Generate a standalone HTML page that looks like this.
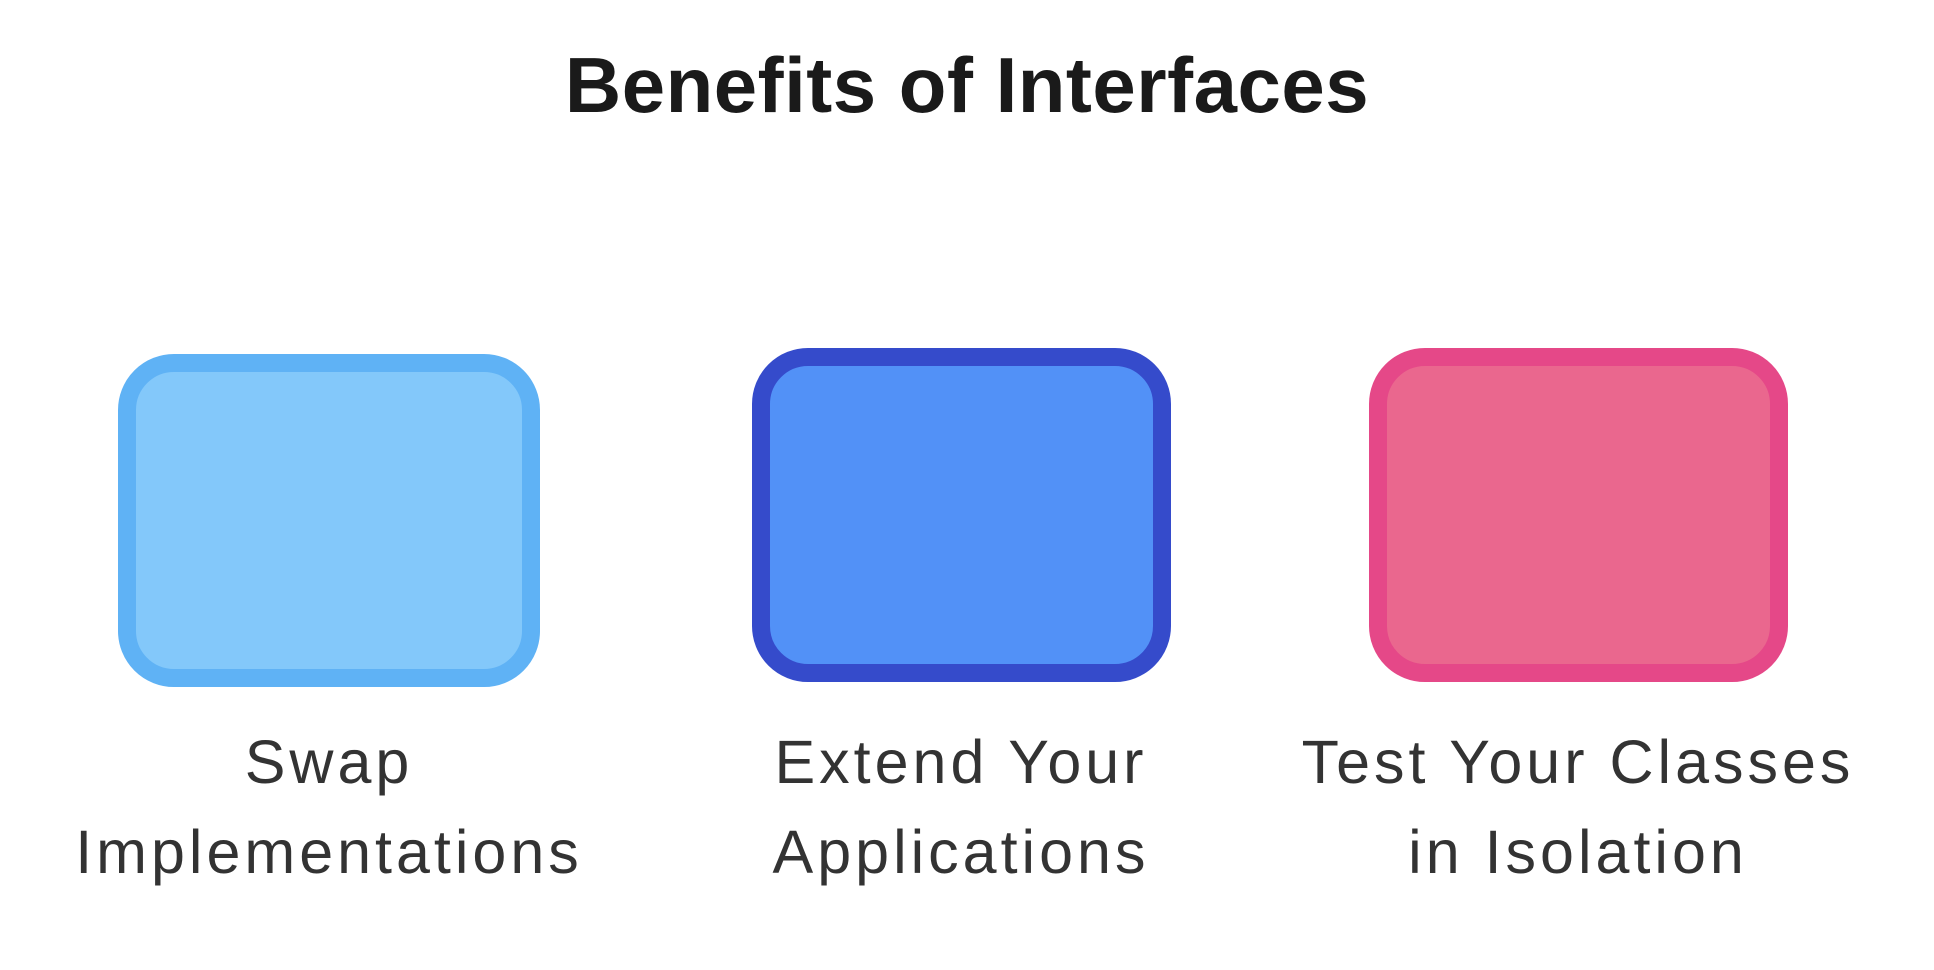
<!DOCTYPE html>
<html><head><style>
body{margin:0;width:1934px;height:970px;background:#fff;position:relative;overflow:hidden;font-family:"Liberation Sans",sans-serif}
.t{position:absolute;left:0;width:1934px;top:40px;text-align:center;font-weight:bold;font-size:78px;color:#1a1a1a;letter-spacing:0.5px}
.b{position:absolute;box-sizing:border-box;border:18px solid;border-radius:56px}
.l{position:absolute;width:700px;text-align:center;font-size:61px;line-height:90px;color:#333;letter-spacing:4px}
</style></head><body>
<div class="t">Benefits of Interfaces</div>
<div class="b" style="left:118px;top:354px;width:422px;height:333px;border-color:#5fb2f5;background:#83c8fa"></div>
<div class="b" style="left:752px;top:348px;width:419px;height:334px;border-color:#354bcb;background:#5291f7"></div>
<div class="b" style="left:1369px;top:348px;width:419px;height:334px;border-color:#e54888;background:#ea678e"></div>
<div class="l" style="left:-21px;top:717px">Swap<br>Implementations</div>
<div class="l" style="left:611px;top:717px">Extend Your<br>Applications</div>
<div class="l" style="left:1228px;top:717px">Test Your Classes<br>in Isolation</div>
</body></html>
